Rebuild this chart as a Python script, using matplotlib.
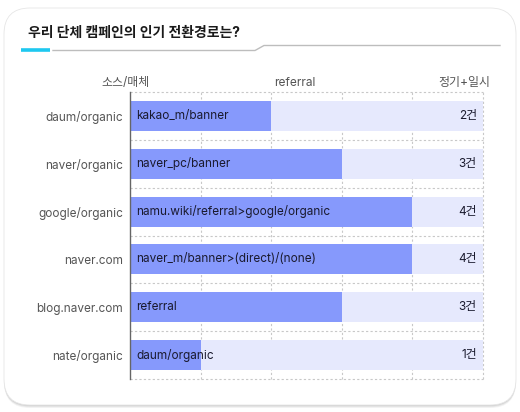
import matplotlib
matplotlib.use("Agg")
import matplotlib.pyplot as plt
from matplotlib.patches import FancyBboxPatch
from matplotlib.lines import Line2D

plt.rcParams['font.family'] = ['Inter', 'Noto Sans CJK KR', 'DejaVu Sans']

title = "우리 단체 캠페인의 인기 전환경로는?"
categories = ["daum/organic", "naver/organic", "google/organic", "naver.com", "blog.naver.com", "nate/organic"]
paths = ["kakao_m/banner", "naver_pc/banner", "namu.wiki/referral>google/organic",
         "naver_m/banner>(direct)/(none)", "referral", "daum/organic"]
counts = [2, 3, 4, 4, 3, 1]
value_labels = ["2건", "3건", "4건", "4건", "3건", "1건"]
max_value = 5
header_left = "소스/매체"
header_mid = "referral"
header_right = "정기+일시"

W, H = 520, 412
fig = plt.figure(figsize=(W / 100, H / 100), dpi=100)
fig.patch.set_facecolor("white")

def fx(px):
    return px / W

def fy(py):
    return 1 - py / H

# card shadow + card
for i, a in enumerate([0.05, 0.06, 0.08]):
    off = 3 - i
    sh = FancyBboxPatch((fx(4), fy(405 + off)), fx(512), 397 / H,
                        boxstyle="round,pad=0,rounding_size=0.05",
                        transform=fig.transFigure, facecolor="black", alpha=a,
                        edgecolor="none", mutation_aspect=W / H, zorder=-3)
    fig.patches.append(sh)
card = FancyBboxPatch((fx(4), fy(405)), fx(512), 397 / H,
                      boxstyle="round,pad=0,rounding_size=0.05",
                      transform=fig.transFigure, facecolor="white",
                      edgecolor="#e6e6e6", linewidth=0.6, mutation_aspect=W / H, zorder=-2)
fig.patches.append(card)

# title
fig.text(fx(28), fy(33), title, fontsize=10, fontweight="bold", color="#1a1a1a",
         ha="left", va="center")
fig.add_artist(Line2D([fx(21), fx(50)], [fy(50), fy(50)], color="#1ec8f0", lw=2.6,
                      transform=fig.transFigure, solid_capstyle="butt"))
fig.add_artist(Line2D([fx(53), fx(255), fx(264), fx(500)],
                      [fy(50.5), fy(50.5), fy(45.5), fy(45.5)], color="#bdbdbd", lw=1,
                      transform=fig.transFigure))

# headers
hs = 8.6
fig.text(fx(150), fy(83), header_left, fontsize=hs, color="#555555", ha="right", va="center")
fig.text(fx(274), fy(83), header_mid, fontsize=hs, color="#555555", ha="left", va="center")
fig.text(fx(490), fy(83), header_right, fontsize=hs, color="#555555", ha="right", va="center")

# axes
left, right, top, bottom = 130, 483, 92, 379
ax = fig.add_axes([fx(left), fy(bottom), fx(right - left), (bottom - top) / H])
ax.set_facecolor("none")
y = list(range(len(categories)))
bh = 0.63
ax.barh(y, [max_value] * len(y), height=bh, color="#e6e9fd", zorder=1)
ax.barh(y, counts, height=bh, color="#8699fc", zorder=2)

ax.set_xlim(0, max_value)
ax.set_ylim(len(categories) - 0.5, -0.5)

grid_kw = dict(color="#c8c8c8", lw=0.8, ls=(0, (2, 2)), zorder=0, clip_on=False)
for xv in range(1, max_value + 1):
    ax.axvline(xv, **grid_kw)
for yb in [i - 0.5 for i in range(len(categories) + 1)]:
    ax.axhline(yb, **grid_kw)

fs = 8.5
for yi, p, v in zip(y, paths, value_labels):
    ax.annotate(p, (0, yi), xytext=(4.5, 0), textcoords="offset points", fontsize=fs,
                color="#1a1a2e", ha="left", va="center", zorder=4)
    ax.annotate(v, (max_value, yi), xytext=(-4.5, 0), textcoords="offset points", fontsize=fs,
                color="#1a1a2e", ha="right", va="center", zorder=4)

ax.set_yticks(y)
ax.set_yticklabels(categories, fontsize=fs, color="#555555")
ax.tick_params(axis="y", length=0, pad=5)
ax.set_xticks([])
for s in ["top", "right", "bottom"]:
    ax.spines[s].set_visible(False)
ax.spines["left"].set_color("#666666")
ax.spines["left"].set_linewidth(1)
ax.spines["left"].set_zorder(5)

fig.savefig("out.png", dpi=100, facecolor="white")
